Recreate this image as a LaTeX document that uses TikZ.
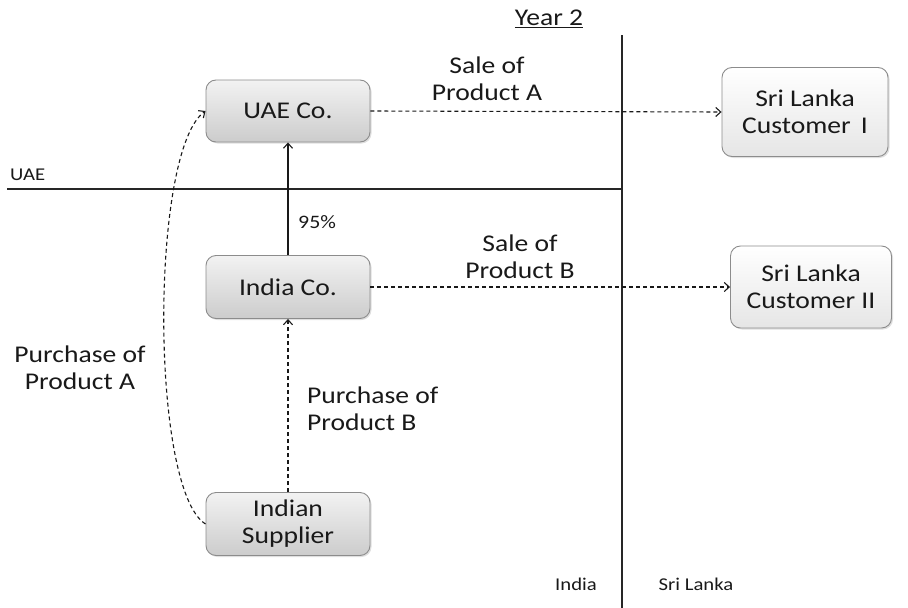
\documentclass[tikz,border=0pt]{standalone}
\usepackage{fontspec}
\setmainfont[FakeStretch=1.15]{Carlito}
\usetikzlibrary{arrows.meta,shadows}
\begin{document}
\begin{tikzpicture}[x=1pt,y=-1pt,
  every node/.style={font=\fontsize{24}{27}\selectfont, text=black!90},
  entity/.style={draw=black!45, line width=0.9pt, rounded corners=10pt,
    top color=black!5, bottom color=black!20, align=center, inner sep=0pt,
    drop shadow={shadow xshift=1.5pt, shadow yshift=-1.5pt, opacity=0.25}},
  customer/.style={entity, top color=white, bottom color=black!10},
  lbl/.style={align=center, inner sep=0pt},
  small/.style={font=\fontsize{18}{20}\selectfont, inner sep=0pt},
  flow/.style={-{Straight Barb[length=5pt,width=9pt]}, line width=1.1pt, black!90},
  dflow/.style={flow, dash pattern=on 4pt off 3pt},
  border/.style={line width=1.2pt, black!85}]
\useasboundingbox (0,0) rectangle (908,608);

% entities
\node[entity, minimum width=164pt, minimum height=62pt] (uae) at (288,111) {UAE Co.};
\node[entity, minimum width=164pt, minimum height=63pt] (india) at (288,287) {India Co.};
\node[entity, minimum width=164pt, minimum height=63pt] (supp) at (288,524) {Indian\\Supplier};
\node[customer, minimum width=166pt, minimum height=89pt] (sl1) at (805,112) {Sri Lanka\\Customer\, I};
\node[customer, minimum width=161pt, minimum height=82pt] (sl2) at (811,287) {Sri Lanka\\Customer II};

% borders between countries
\coordinate (vtop) at (622,35);
\coordinate (vbot) at (622,608);
\coordinate (hl) at (7,189);
\coordinate (hr) at (622,189);
\draw[border] (vtop) -- (vbot);
\draw[border] (hl) -- (hr);

% region labels
\node[small, anchor=west] (luae) at (10,175) {UAE};
\node[small] (lindia) at (576,584) {India};
\node[small] (lsl) at (696,584) {Sri Lanka};
\node[inner sep=0pt, font=\fontsize{24}{28}\selectfont] (year) at (549,19) {\underline{Year 2}};

% flows
\draw[dflow] (uae.east) -- (sl1.west);
\draw[dflow] (india.east) -- (sl2.west |- india.east);
\draw[flow] (india.north) -- (uae.south);
\draw[dflow] (supp.west) .. controls (150,490) and (150,150) .. (uae.west);
\draw[dflow] (supp.north) -- (india.south);

% flow labels
\node[lbl] (sa) at (487,79) {Sale of\\Product A};
\node[lbl] (sb) at (520,257) {Sale of\\Product B};
\node[lbl] (pa) at (80,368) {Purchase of\\Product A};
\node[lbl, anchor=west, align=left] (pb) at (307,409) {Purchase of\\Product B};
\node[anchor=west, inner sep=0pt, font=\fontsize{19}{21}\selectfont] (pct) at (298,222) {95\%};
\end{tikzpicture}
\end{document}
